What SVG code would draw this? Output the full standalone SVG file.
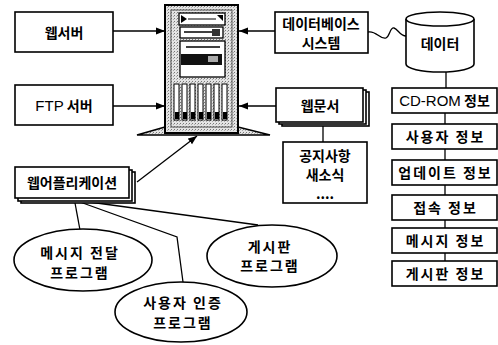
<svg xmlns="http://www.w3.org/2000/svg" width="498" height="345" viewBox="0 0 498 345">
  <defs>
    <marker id="arrow" viewBox="0 0 10 10" refX="10" refY="5" markerWidth="9" markerHeight="9" markerUnits="userSpaceOnUse" orient="auto">
      <path d="M0,1 L10,5 L0,9 Z" fill="#000"/>
    </marker>
    <pattern id="stipple" width="3" height="3" patternUnits="userSpaceOnUse">
      <rect width="3" height="3" fill="#e4e4e4"/>
      <rect x="0" y="0" width="1" height="1" fill="#777"/>
      <rect x="2" y="1" width="1" height="1" fill="#aaa"/>
    </pattern>
  </defs>
  <style>
    .box { fill: #fff; stroke: #000; stroke-width: 1.6; }
    .line { fill: none; stroke: #000; stroke-width: 1.3; }
    .lbl { font-family: "Noto Sans CJK KR", "Noto Sans", sans-serif; font-size: 14px; font-weight: bold; fill: #000; text-anchor: middle; dominant-baseline: central; }
    .wide { letter-spacing: 2px; }
    .eng { font-family: "Liberation Sans", "Noto Sans CJK KR", sans-serif; font-weight: normal; font-size: 15px; letter-spacing: 0; }
  </style>
  <rect width="498" height="345" fill="#fff"/>

  <!-- connectors -->
  <g id="connectors">
    <line class="line" x1="113" y1="31" x2="165" y2="31" marker-end="url(#arrow)"/>
    <line class="line" x1="113" y1="106" x2="165" y2="106" marker-end="url(#arrow)"/>
    <line class="line" x1="275" y1="31" x2="239" y2="31" marker-end="url(#arrow)"/>
    <line class="line" x1="276" y1="106" x2="239" y2="106" marker-end="url(#arrow)"/>
    <line class="line" x1="137" y1="182" x2="197" y2="136" marker-end="url(#arrow)"/>
    <path class="line" d="M368,32 C376,30 380,40 386,38 C390,36 390,27 394,28 C398,29 400,36 406,36"/>
    <line class="line" x1="446" y1="72" x2="446" y2="88"/>
    <line class="line" x1="445" y1="113" x2="445" y2="124"/>
    <line class="line" x1="445" y1="149" x2="445" y2="160"/>
    <line class="line" x1="445" y1="185" x2="445" y2="195"/>
    <line class="line" x1="445" y1="220" x2="445" y2="228"/>
    <line class="line" x1="445" y1="253" x2="445" y2="261"/>
    <line class="line" x1="323" y1="125" x2="323" y2="142"/>
    <line class="line" x1="75" y1="203" x2="80" y2="230"/>
    <polyline class="line" points="80,202 177,237 183,282"/>
    <line class="line" x1="82" y1="201" x2="258" y2="225"/>
  </g>

  <!-- server tower -->
  <g id="server">
    <path d="M165,127 L137,135 L270,135 L238,127 Z" fill="url(#stipple)" stroke="#000" stroke-width="1.6"/>
    <rect x="165" y="5" width="73" height="128" fill="url(#stipple)" stroke="#000" stroke-width="2"/>
    <rect x="171" y="10" width="61" height="117" fill="none" stroke="#555" stroke-width="1"/>
    <!-- drive bays -->
    <rect x="179" y="13" width="46" height="12" fill="#fff" stroke="#000" stroke-width="1.3"/>
    <path d="M181,15 L187,19 L181,23 Z M223,15 L217,15 L223,21 Z" fill="#000"/>
    <line x1="188" y1="19" x2="216" y2="19" stroke="#000" stroke-width="1"/>
    <rect x="180" y="27" width="43" height="11" fill="#fff" stroke="#000" stroke-width="1.3"/>
    <line x1="184" y1="32" x2="212" y2="32" stroke="#000" stroke-width="1.5"/>
    <rect x="212" y="29" width="8" height="7" fill="#333"/>
    <rect x="180" y="41" width="45" height="36" fill="#fff" stroke="#000" stroke-width="1.3"/>
    <line x1="186" y1="47" x2="220" y2="47" stroke="#000" stroke-width="1.5"/>
    <rect x="181" y="54" width="41" height="11" fill="#111"/>
    <rect x="208" y="56" width="10" height="6" fill="#aaa"/>
    <rect x="181" y="66" width="43" height="10" fill="#fff"/>
    <!-- vertical slots -->
    <g fill="#fff" stroke="#000" stroke-width="1">
      <rect x="174" y="84" width="5" height="36"/>
      <rect x="182" y="84" width="5" height="36"/>
      <rect x="190" y="84" width="5" height="36"/>
      <rect x="198" y="84" width="5" height="36"/>
      <rect x="206" y="84" width="5" height="36"/>
      <rect x="214" y="84" width="5" height="36"/>
      <rect x="222" y="84" width="5" height="36"/>
    </g>
    <g fill="#000">
      <rect x="175" y="112" width="4" height="7"/>
      <rect x="183" y="112" width="4" height="7"/>
      <rect x="191" y="112" width="4" height="7"/>
      <rect x="199" y="112" width="4" height="7"/>
      <rect x="207" y="112" width="4" height="7"/>
      <rect x="215" y="112" width="4" height="7"/>
      <rect x="223" y="112" width="4" height="7"/>
    </g>
  </g>

  <g id="webserver">
    <rect class="box" x="15" y="12" width="98" height="40"/>
    <text class="lbl" x="64" y="32">웹서버</text>
  </g>
  <g id="ftpserver">
    <rect class="box" x="15" y="85" width="98" height="40"/>
    <text class="lbl" x="64" y="105"><tspan class="eng">FTP</tspan> 서버</text>
  </g>
  <g id="dbsystem">
    <rect class="box" x="275" y="12" width="93" height="41"/>
    <text class="lbl" x="321" y="23">데이터베이스</text>
    <text class="lbl" x="321" y="42">시스템</text>
  </g>
  <g id="data">
    <path class="box" d="M406,19 L406,64 A34,8 0 0 0 474,64 L474,19"/>
    <ellipse class="box" cx="440" cy="19" rx="34" ry="7"/>
    <text class="lbl" x="440" y="43">데이터</text>
  </g>
  <g id="webdoc">
    <rect class="box" x="282" y="92" width="87" height="34"/>
    <rect class="box" x="279" y="90" width="87" height="34"/>
    <rect class="box" x="276" y="88" width="87" height="34"/>
    <text class="lbl" x="320" y="105">웹문서</text>
  </g>
  <g id="notice">
    <rect class="box" x="283" y="142" width="84" height="61"/>
    <text class="lbl" x="325" y="155">공지사항</text>
    <text class="lbl" x="325" y="174">새소식</text>
    <text class="lbl" x="325" y="193">....</text>
  </g>
  <g id="webapp">
    <rect class="box" x="21" y="172" width="114" height="31"/>
    <rect class="box" x="18" y="170" width="114" height="31"/>
    <rect class="box" x="15" y="167" width="114" height="31"/>
    <text class="lbl" x="72" y="182">웹어플리케이션</text>
  </g>
  <g id="info-cdrom">
    <rect class="box" x="392" y="88" width="105" height="25"/>
    <text class="lbl" x="444.5" y="100"><tspan class="eng">CD-ROM</tspan> 정보</text>
  </g>
  <g id="info-user">
    <rect class="box" x="392" y="124" width="105" height="25"/>
    <text class="lbl wide" x="445.5" y="136">사용자 정보</text>
  </g>
  <g id="info-update">
    <rect class="box" x="392" y="160" width="105" height="25"/>
    <text class="lbl wide" x="445.5" y="172">업데이트 정보</text>
  </g>
  <g id="info-access">
    <rect class="box" x="392" y="195" width="105" height="25"/>
    <text class="lbl wide" x="445.5" y="207">접속 정보</text>
  </g>
  <g id="info-message">
    <rect class="box" x="392" y="228" width="105" height="25"/>
    <text class="lbl wide" x="445.5" y="240">메시지 정보</text>
  </g>
  <g id="info-board">
    <rect class="box" x="392" y="261" width="105" height="25"/>
    <text class="lbl wide" x="445.5" y="273">게시판 정보</text>
  </g>
  <g id="prog-message">
    <ellipse class="box" cx="83" cy="260" rx="69" ry="31"/>
    <text class="lbl wide" x="80" y="252">메시지 전달</text>
    <text class="lbl wide" x="80" y="272">프로그램</text>
  </g>
  <g id="prog-auth">
    <ellipse class="box" cx="181" cy="312" rx="66" ry="30"/>
    <text class="lbl wide" x="183" y="302">사용자 인증</text>
    <text class="lbl wide" x="183" y="322">프로그램</text>
  </g>
  <g id="prog-board">
    <ellipse class="box" cx="272" cy="256" rx="65" ry="31"/>
    <text class="lbl wide" x="270" y="246">게시판</text>
    <text class="lbl wide" x="270" y="265">프로그램</text>
  </g>
</svg>
